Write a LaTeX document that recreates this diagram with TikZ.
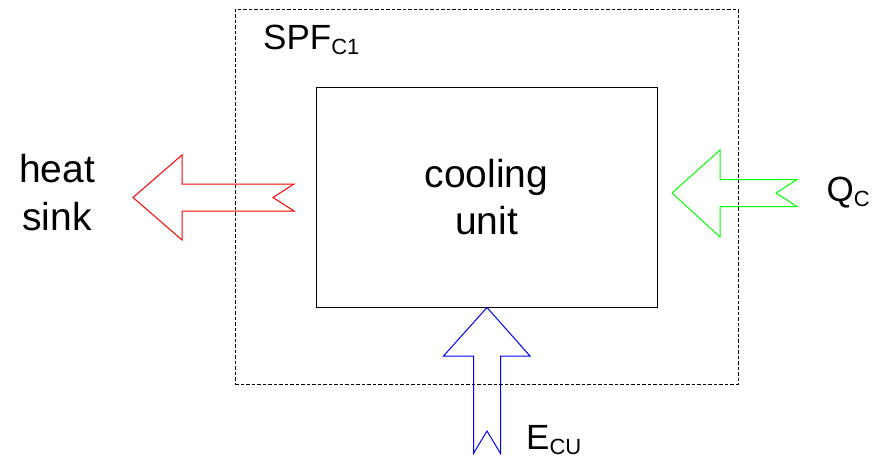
\documentclass[tikz,border=0pt]{standalone}
\usepackage{fontspec}
\setmainfont{Liberation Sans}
\usetikzlibrary{positioning}

\newcommand{\lowsub}[1]{\raisebox{-5pt}{\fontsize{22}{22}\selectfont #1}}

\tikzset{
  unitbox/.style={draw, line width=1pt, minimum width=341pt, minimum height=220pt,
    align=center, font=\fontsize{39}{47}\selectfont},
  limitbox/.style={draw, dash pattern=on 3.5pt off 2pt, line width=0.8pt},
  bigtext/.style={inner sep=0pt, align=center, font=\fontsize{39}{48}\selectfont},
  symtext/.style={inner sep=0pt, font=\fontsize{35}{35}\selectfont},
  flow/.style={line width=1pt, line join=miter}
}

\begin{document}
\begin{tikzpicture}[x=1pt, y=-1pt]
  \useasboundingbox (0,0) rectangle (881,458);

  % system boundary
  \node (spf) [limitbox, minimum width=503pt, minimum height=375pt] at (486.5,196.5) {};
  \node (spflbl) [symtext, anchor=base west] at (263,49.5) {SPF\lowsub{C1}};

  % cooling unit
  \node (unit) [unitbox] at (486.5,197.5) {cooling\\unit};

  % heat to sink
  \draw[flow, red] (133,197.5) -- (182,155) -- (182,184) -- (294,184) -- (273,197.5)
    -- (294,211) -- (182,211) -- (182,240) -- cycle;
  \node (sink) [bigtext, anchor=north] at (57,154) {heat\\sink};

  % heat from cold side
  \draw[flow, green] (672,193) -- (720,150) -- (720,179.5) -- (797,179.5) -- (776,193)
    -- (797,206.5) -- (720,206.5) -- (720,237) -- cycle;
  \node (qc) [symtext, anchor=base west] at (826.5,201.5) {Q\lowsub{C}};

  % drive energy
  \draw[flow, blue] (487,307.5) -- (530,356) -- (500.5,356) -- (500.5,453.5) -- (487,431)
    -- (473.5,453.5) -- (473.5,356) -- (443.5,356) -- cycle;
  \node (ecu) [symtext, anchor=base west] at (526,449) {E\lowsub{CU}};
\end{tikzpicture}
\end{document}
